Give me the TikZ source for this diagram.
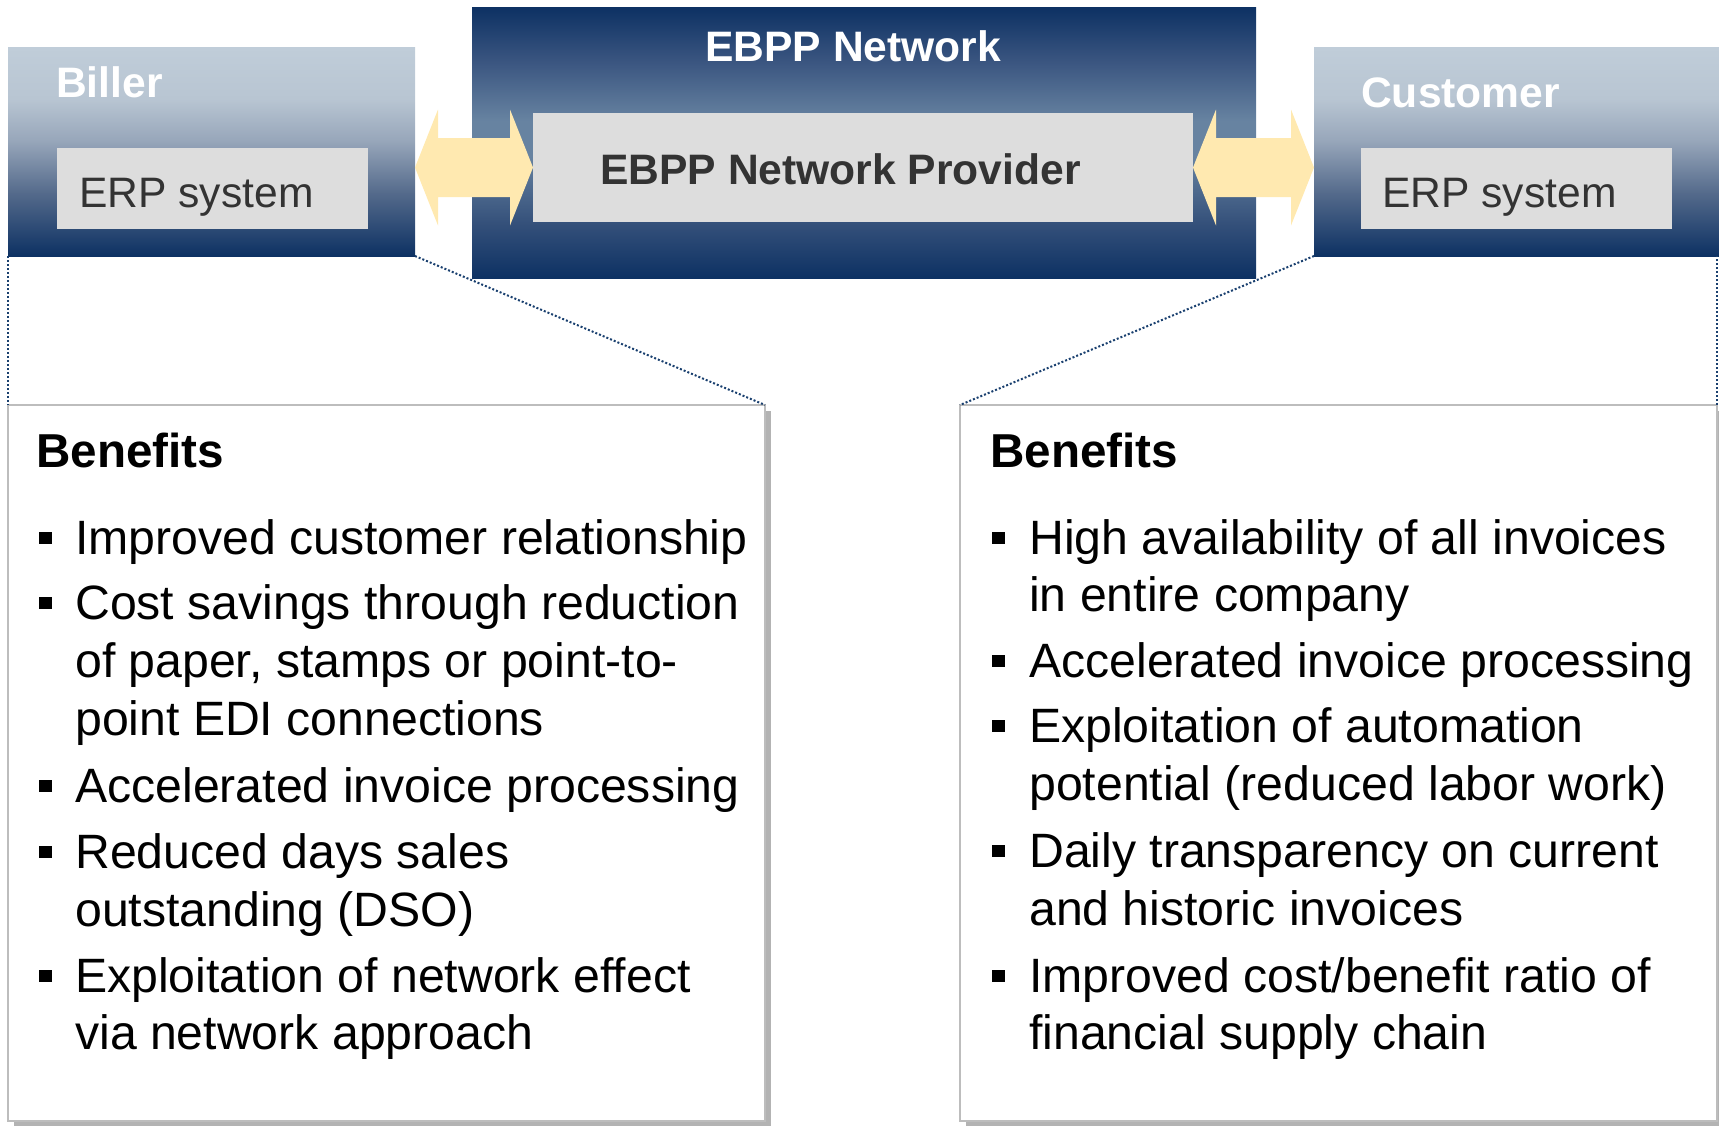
\documentclass[tikz,border=0pt]{standalone}
\usepackage{fontspec}
\setmainfont{Liberation Sans}
\usetikzlibrary{shadows,calc}
\definecolor{navyc}{HTML}{0D3163}
\definecolor{sideA}{HTML}{C0CDD9}
\definecolor{sideB}{HTML}{B8C5D2}
\definecolor{sideC}{HTML}{97A6BA}
\definecolor{sideD}{HTML}{546A8B}
\definecolor{netA}{HTML}{3A5580}
\definecolor{netB}{HTML}{6783A1}
\definecolor{netC}{HTML}{34507A}
\definecolor{boxgray}{HTML}{DDDDDD}
\definecolor{txtgray}{HTML}{333333}
\definecolor{arrowyellow}{HTML}{FFE9B0}
\definecolor{dotblue}{HTML}{1A406F}
\definecolor{bordergray}{HTML}{BDBDBD}
\definecolor{shadowgray}{HTML}{B3B3B3}
\pgfdeclareverticalshading{sidegrad}{100bp}{color(0bp)=(navyc); color(25bp)=(navyc); color(40bp)=(sideD); color(52.5bp)=(sideC); color(62.5bp)=(sideB); color(75bp)=(sideA); color(100bp)=(sideA)}
\pgfdeclareverticalshading{netgrad}{100bp}{color(0bp)=(navyc); color(25bp)=(navyc); color(35bp)=(netC); color(47.5bp)=(netB); color(54bp)=(netB); color(65bp)=(netA); color(75bp)=(navyc); color(100bp)=(navyc)}
\tikzset{
  box/.style={rectangle, inner sep=0pt, outer sep=0pt, anchor=north west},
  sidebox/.style={box, shading=sidegrad},
  netbox/.style={box, shading=netgrad},
  graybox/.style={box, fill=boxgray},
  whitetitle/.style={anchor=base west, inner sep=0pt, text=white, font=\fontsize{42.6}{50}\selectfont\bfseries},
  erptext/.style={anchor=base west, inner sep=0pt, text=txtgray, font=\fontsize{42.6}{50}\selectfont},
  provtext/.style={anchor=base west, inner sep=0pt, text=txtgray, font=\fontsize{42.6}{50}\selectfont\bfseries},
  benbox/.style={box, fill=white, draw=bordergray, line width=2.5pt,
    drop shadow={shadow xshift=6pt, shadow yshift=-6pt, fill=shadowgray, opacity=1}},
  bentitle/.style={anchor=base west, inner sep=0pt, font=\fontsize{47.6}{55}\selectfont\bfseries},
  itemtext/.style={anchor=base west, inner sep=0pt, font=\fontsize{48.2}{57}\selectfont},
  bulletsq/.style={rectangle, fill=black, minimum size=12.5pt, inner sep=0pt, outer sep=0pt},
  dotline/.style={draw=dotblue, line width=2pt, dash pattern=on 2pt off 2pt},
  blockarrow/.style={fill=arrowyellow},
}
\newcommand{\blockarr}[2]{%
  \fill[blockarrow] let \p1=(#1), \p2=(#2) in
  (\x1,\y1) -- (\x1+23pt,\y1+58pt) -- (\x1+23pt,\y1+29.5pt) -- (\x2-23pt,\y1+29.5pt)
  -- (\x2-23pt,\y1+58pt) -- (\x2,\y1) -- (\x2-23pt,\y1-58pt) -- (\x2-23pt,\y1-29.5pt)
  -- (\x1+23pt,\y1-29.5pt) -- (\x1+23pt,\y1-58pt) -- cycle;}
\begin{document}
\begin{tikzpicture}[x=1pt,y=-1pt]
\useasboundingbox (0,0) rectangle (1719,1125);
% top boxes
\node[sidebox, minimum width=407pt, minimum height=209pt] (biller) at (8,47) {};
\node[sidebox, minimum width=406pt, minimum height=209pt] (cust) at (1314,47) {};
\node[netbox, minimum width=784pt, minimum height=271pt] (net) at (472,7) {};
\node[graybox, minimum width=311pt, minimum height=81pt] (erpL) at (57,148) {};
\node[graybox, minimum width=311pt, minimum height=81pt] (erpR) at (1361,148) {};
\node[graybox, minimum width=660pt, minimum height=109pt] (prov) at (533,113) {};
% titles
\node[whitetitle] (tBiller) at (56,97) {Biller};
\node[whitetitle] (tCust) at (1361,107) {Customer};
\node[whitetitle] (tNet) at (705,61) {EBPP Network};
\node[erptext] (tErpL) at (79,207) {ERP system};
\node[erptext] (tErpR) at (1382,207) {ERP system};
\node[provtext] (tProv) at (600,184) {EBPP Network Provider};
% arrows
\blockarr{biller.east |- prov.west}{prov.west}
\blockarr{prov.east}{cust.west |- prov.east}
% benefit boxes
\node[benbox, minimum width=757pt, minimum height=716pt] (benL) at (8,405) {};
\node[benbox, minimum width=757pt, minimum height=716pt] (benR) at (960,405) {};
% dotted connectors
\draw[dotline] (biller.south west) -- (benL.north west);
\draw[dotline] (biller.south east) -- (benL.north east);
\draw[dotline] (cust.south west) -- (benR.north west);
\draw[dotline] (benR.north east) -- (benR.north east |- cust.south);
% left benefits
\node[bentitle] (hL) at (36,467) {Benefits};
\node[bulletsq] (bL1) at (45.5,538) {};
\node[itemtext] (l1a) at (75,554) {Improved customer relationship};
\node[bulletsq] (bL2) at (45.5,603) {};
\node[itemtext] (l2a) at (75,619) {Cost savings through reduction};
\node[itemtext] (l2b) at (75,677) {of paper, stamps or point-to-};
\node[itemtext] (l2c) at (75,735) {point EDI connections};
\node[bulletsq] (bL3) at (45.5,786) {};
\node[itemtext] (l3a) at (75,802) {Accelerated invoice processing};
\node[bulletsq] (bL4) at (45.5,852) {};
\node[itemtext] (l4a) at (75,868) {Reduced days sales};
\node[itemtext] (l4b) at (75,926) {outstanding (DSO)};
\node[bulletsq] (bL5) at (45.5,976) {};
\node[itemtext] (l5a) at (75,992) {Exploitation of network effect};
\node[itemtext] (l5b) at (75,1049) {via network approach};
% right benefits
\node[bentitle] (hR) at (990,467) {Benefits};
\node[bulletsq] (bR1) at (998.5,538) {};
\node[itemtext] (r1a) at (1029,554) {High availability of all invoices};
\node[itemtext] (r1b) at (1029,611) {in entire company};
\node[bulletsq] (bR2) at (998.5,661) {};
\node[itemtext] (r2a) at (1029,677) {Accelerated invoice processing};
\node[bulletsq] (bR3) at (998.5,726) {};
\node[itemtext] (r3a) at (1029,742) {Exploitation of automation};
\node[itemtext] (r3b) at (1029,800) {potential (reduced labor work)};
\node[bulletsq] (bR4) at (998.5,851) {};
\node[itemtext] (r4a) at (1029,867) {Daily transparency on current};
\node[itemtext] (r4b) at (1029,925) {and historic invoices};
\node[bulletsq] (bR5) at (998.5,976) {};
\node[itemtext] (r5a) at (1029,992) {Improved cost/benefit ratio of};
\node[itemtext] (r5b) at (1029,1049) {financial supply chain};
\end{tikzpicture}
\end{document}
